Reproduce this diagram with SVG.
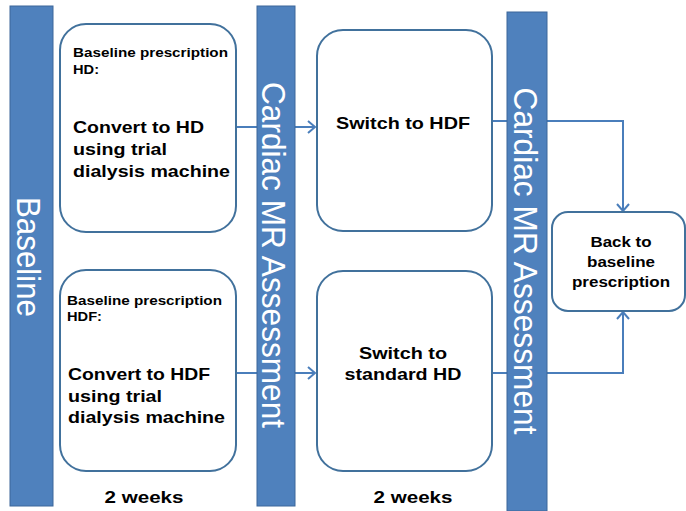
<svg xmlns="http://www.w3.org/2000/svg" width="686" height="511" viewBox="0 0 686 511">
<style>
.bar{fill:#4f81bd;stroke:#3c679a;stroke-width:1}
.vt{fill:#fff;font-family:"Liberation Sans",Arial,sans-serif;font-size:33px;text-anchor:middle}
.box{fill:#fff;stroke:#41719c;stroke-width:2}
.t{font-family:"Liberation Sans",Arial,sans-serif;font-weight:bold;fill:#000}
.s{font-size:13px}
.m{font-size:17px}
.b5{font-size:14.5px;text-anchor:middle}
.c{text-anchor:middle}
.con{fill:none;stroke:#4a7ebb;stroke-width:2}
</style>
<defs>
<marker id="arr" markerUnits="userSpaceOnUse" markerWidth="14" markerHeight="16" refX="9" refY="7" orient="auto">
<path d="M2,1 L9,7 L2,13" fill="none" stroke="#4a7ebb" stroke-width="2"/>
</marker>
</defs>
<g id="connectors">
<path class="con" d="M236,127 H315" marker-end="url(#arr)"/>
<path class="con" d="M236,373 H315" marker-end="url(#arr)"/>
<path class="con" d="M492,121 H623 V211" marker-end="url(#arr)"/>
<path class="con" d="M492,373 H623 V312" marker-end="url(#arr)"/>
</g>
<g id="baseline-bar">
<rect class="bar" x="10" y="6" width="43" height="500"/>
<text class="vt" transform="translate(17,257) rotate(90)" textLength="120" lengthAdjust="spacingAndGlyphs">Baseline</text>
</g>
<g id="cardiac-mr-1">
<rect class="bar" x="257" y="6" width="38" height="500"/>
<text class="vt" transform="translate(262,255) rotate(90)" textLength="346" lengthAdjust="spacingAndGlyphs">Cardiac MR Assessment</text>
</g>
<g id="cardiac-mr-2">
<rect class="bar" x="507" y="12" width="40" height="499"/>
<text class="vt" transform="translate(514,261) rotate(90)" textLength="347" lengthAdjust="spacingAndGlyphs">Cardiac MR Assessment</text>
</g>
<g id="convert-hd">
<rect class="box" x="60" y="24" width="176" height="208" rx="26"/>
<text class="t s" x="73" y="57" textLength="155" lengthAdjust="spacingAndGlyphs">Baseline prescription</text>
<text class="t s" x="73" y="74" textLength="26" lengthAdjust="spacingAndGlyphs">HD:</text>
<text class="t m" x="73" y="133" textLength="131" lengthAdjust="spacingAndGlyphs">Convert to HD</text>
<text class="t m" x="73" y="155" textLength="94" lengthAdjust="spacingAndGlyphs">using trial</text>
<text class="t m" x="73" y="177" textLength="157" lengthAdjust="spacingAndGlyphs">dialysis machine</text>
</g>
<g id="convert-hdf">
<rect class="box" x="60" y="270" width="176" height="201" rx="26"/>
<text class="t s" x="67" y="305" textLength="155" lengthAdjust="spacingAndGlyphs">Baseline prescription</text>
<text class="t s" x="67" y="321" textLength="35" lengthAdjust="spacingAndGlyphs">HDF:</text>
<text class="t m" x="68" y="380" textLength="142" lengthAdjust="spacingAndGlyphs">Convert to HDF</text>
<text class="t m" x="68" y="402" textLength="94" lengthAdjust="spacingAndGlyphs">using trial</text>
<text class="t m" x="68" y="423" textLength="157" lengthAdjust="spacingAndGlyphs">dialysis machine</text>
</g>
<g id="switch-hdf">
<rect class="box" x="317" y="30" width="175" height="201" rx="26"/>
<text class="t m c" x="403" y="129" textLength="134" lengthAdjust="spacingAndGlyphs">Switch to HDF</text>
</g>
<g id="switch-hd">
<rect class="box" x="317" y="271" width="175" height="200" rx="26"/>
<text class="t m c" x="403" y="359" textLength="88" lengthAdjust="spacingAndGlyphs">Switch to</text>
<text class="t m c" x="403" y="380" textLength="117" lengthAdjust="spacingAndGlyphs">standard HD</text>
</g>
<g id="back-to-baseline">
<rect class="box" x="552" y="212" width="133" height="99" rx="16"/>
<text class="t b5" x="621" y="247" textLength="61" lengthAdjust="spacingAndGlyphs">Back to</text>
<text class="t b5" x="621" y="267" textLength="68" lengthAdjust="spacingAndGlyphs">baseline</text>
<text class="t b5" x="621" y="287" textLength="98" lengthAdjust="spacingAndGlyphs">prescription</text>
</g>
<g id="labels">
<text class="t m c" x="144" y="503" textLength="79" lengthAdjust="spacingAndGlyphs">2 weeks</text>
<text class="t m c" x="413" y="503" textLength="79" lengthAdjust="spacingAndGlyphs">2 weeks</text>
</g>
</svg>
